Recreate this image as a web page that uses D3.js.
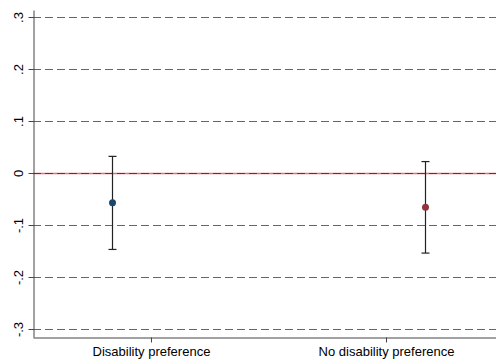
<!DOCTYPE html>
<html>
<head>
<meta charset="utf-8">
<script src="https://cdn.jsdelivr.net/npm/d3@7"></script>
<style>
  body { margin: 0; background: #fff; }
  text { font-family: "Liberation Sans", Arial, sans-serif; fill: #000; }
</style>
</head>
<body>
<svg width="496" height="360"></svg>
<script>
// Estimates with 95% CIs
const groups = ['Disability preference', 'No disability preference'];
const estimates = [-0.057, -0.066];
const ciLow = [-0.147, -0.154];
const ciHigh = [0.032, 0.022];
const pointPos = [0.834, 2.166];   // markers sit offset from the category ticks
const yTicks = [-0.3, -0.2, -0.1, 0, 0.1, 0.2, 0.3];
const yTickLabels = ['-.3', '-.2', '-.1', '0', '.1', '.2', '.3'];
const colors = ['#1a476f', '#90353b'];

const svg = d3.select('svg');
const margin = { top: 10, left: 33, bottom: 23, right: 0 };
const width = +svg.attr('width');
const height = +svg.attr('height');

const x = d3.scaleLinear()
  .domain([0.498, 2.468])
  .range([margin.left, width - margin.right]);
const y = d3.scaleLinear()
  .domain([-0.3154, 0.3135])
  .range([height - margin.bottom, margin.top]);

// zero reference line (solid, under the dashed grid)
svg.append('line')
  .attr('x1', margin.left).attr('x2', width - margin.right)
  .attr('y1', Math.round(y(0)) + 0.5).attr('y2', Math.round(y(0)) + 0.5)
  .attr('stroke', '#e0707c').attr('stroke-width', 1.5);

// gridlines
svg.append('g')
  .selectAll('line')
  .data(yTicks)
  .join('line')
  .attr('x1', margin.left)
  .attr('x2', width - margin.right)
  .attr('y1', d => Math.round(y(d)) + 0.5)
  .attr('y2', d => Math.round(y(d)) + 0.5)
  .attr('stroke', d => d === 0 ? '#7a2a34' : '#666')
  .attr('stroke-width', 1)
  .attr('stroke-dasharray', '8,4');

// y axis
const yAxis = svg.append('g')
  .attr('transform', `translate(${margin.left + 0.5},0)`)
  .call(d3.axisLeft(y).tickValues(yTicks).tickSize(5).tickSizeOuter(0)
    .tickFormat((d, i) => yTickLabels[i]));
yAxis.select('.domain').attr('stroke', '#444');
yAxis.selectAll('.tick line').attr('stroke', '#444');
yAxis.selectAll('.tick text')
  .attr('font-size', 13)
  .attr('transform', 'rotate(-90)')
  .attr('text-anchor', 'middle')
  .attr('x', 0)
  .attr('y', -11)
  .attr('dy', 0);

// x axis
const xAxis = svg.append('g')
  .attr('transform', `translate(0,${height - margin.bottom + 0.5})`)
  .call(d3.axisBottom(x).tickValues([1, 2]).tickSize(5).tickSizeOuter(0)
    .tickFormat(d => groups[d - 1]));
xAxis.select('.domain').attr('stroke', '#444');
xAxis.selectAll('.tick line').attr('stroke', '#444');
xAxis.selectAll('.tick text')
  .attr('font-size', 13)
  .attr('y', 9);

// error bars
const bars = svg.append('g');
groups.forEach((g, i) => {
  const cx = Math.round(x(pointPos[i])) + 0.5;
  bars.append('line')
    .attr('x1', cx).attr('x2', cx)
    .attr('y1', y(ciLow[i])).attr('y2', y(ciHigh[i]))
    .attr('stroke', '#222').attr('stroke-width', 1.2);
  [ciLow[i], ciHigh[i]].forEach(v => {
    bars.append('line')
      .attr('x1', cx - 4).attr('x2', cx + 4)
      .attr('y1', y(v)).attr('y2', y(v))
      .attr('stroke', '#222').attr('stroke-width', 1.2);
  });
  bars.append('circle')
    .attr('cx', cx)
    .attr('cy', y(estimates[i]))
    .attr('r', 3.5)
    .attr('fill', colors[i]);
});
</script>
</body>
</html>
